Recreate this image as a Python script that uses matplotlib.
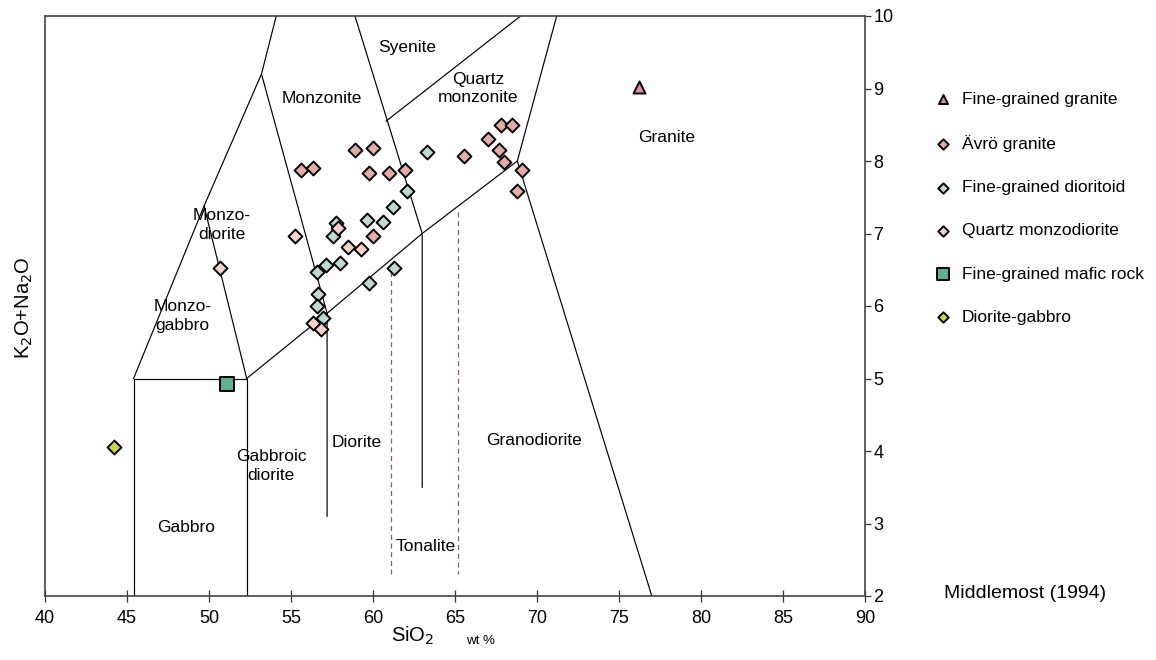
import matplotlib
matplotlib.use("Agg")
import matplotlib.pyplot as plt

plt.rcParams['font.family'] = ['Liberation Sans', 'DejaVu Sans']

# ---- sample data (SiO2 wt %, K2O+Na2O wt %) ----
fg_granite_si = [76.2]
fg_granite_alk = [9.02]

avro_si = [58.90, 59.98, 65.57, 55.59, 56.36, 59.77, 60.98, 61.95, 59.98,
           67.79, 68.49, 66.99, 67.68, 67.99, 69.10, 68.80]
avro_alk = [8.15, 8.18, 8.07, 7.87, 7.90, 7.83, 7.83, 7.87, 6.96,
            8.50, 8.50, 8.31, 8.15, 7.99, 7.88, 7.58]

dioritoid_si = [63.27, 62.05, 61.24, 57.74, 59.62, 60.59, 57.54, 57.13, 56.57,
                57.99, 61.28, 59.77, 56.67, 56.57, 56.97]
dioritoid_alk = [8.12, 7.58, 7.36, 7.14, 7.19, 7.16, 6.96, 6.57, 6.47,
                 6.59, 6.53, 6.32, 6.17, 6.00, 5.83]

qmd_si = [57.88, 55.24, 58.49, 59.25, 56.36, 56.81, 50.67]
qmd_alk = [7.07, 6.96, 6.81, 6.79, 5.77, 5.68, 6.52]

mafic_si = [51.1]
mafic_alk = [4.93]

dgabbro_si = [44.2]
dgabbro_alk = [4.05]

# ---- Middlemost (1994) plutonic field boundaries ----
boundaries = [
    [(45.4, 2.0), (45.4, 5.0), (52.3, 5.0), (52.3, 2.0)],
    [(45.4, 5.0), (49.7, 7.38), (53.2, 9.2), (54.1, 10.0)],
    [(49.7, 7.38), (52.3, 5.0)],
    [(52.3, 5.0), (57.2, 5.9), (63.0, 7.0), (68.8, 8.0)],
    [(53.2, 9.2), (57.2, 5.9), (57.2, 3.1)],
    [(58.9, 10.0), (63.0, 7.0), (63.0, 3.5)],
    [(60.8, 8.55), (69.0, 10.0)],
    [(71.2, 10.0), (68.8, 8.0), (77.0, 2.0)],
]
tonalite_dashes = [
    [(61.1, 6.6), (61.1, 2.3)],
    [(65.2, 7.3), (65.2, 2.3)],
]

field_labels = [
    ("Syenite", 62.1, 9.57),
    ("Quartz\nmonzonite", 66.4, 9.0),
    ("Monzonite", 56.9, 8.86),
    ("Granite", 77.9, 8.33),
    ("Monzo-\ndiorite", 50.8, 7.12),
    ("Monzo-\ngabbro", 48.4, 5.86),
    ("Diorite", 59.0, 4.12),
    ("Granodiorite", 69.8, 4.14),
    ("Gabbroic\ndiorite", 53.8, 3.79),
    ("Gabbro", 48.6, 2.95),
    ("Tonalite", 63.2, 2.68),
]

fig = plt.figure(figsize=(11.56, 6.6), dpi=100)
ax = fig.add_axes([45 / 1156, 1 - 596 / 660, 820 / 1156, 580 / 660])

for seg in boundaries:
    xs, ys = zip(*seg)
    ax.plot(xs, ys, color='black', lw=0.85, zorder=1)
for seg in tonalite_dashes:
    xs, ys = zip(*seg)
    ax.plot(xs, ys, color='#96585a', lw=0.9, ls=(0, (4, 3)), zorder=1)

for txt, x, y in field_labels:
    ax.text(x, y, txt, ha='center', va='center', fontsize=12.5,
            linespacing=1.3, zorder=2)

edge = dict(edgecolor='black', linewidths=1.4, zorder=4)
ax.scatter(fg_granite_si, fg_granite_alk, marker='^', s=75, c='#d98fa8',
           label='Fine-grained granite', **edge)
ax.scatter(avro_si, avro_alk, marker='D', s=50, c='#e4aca6',
           label='Ävrö granite', **edge)
ax.scatter(dioritoid_si, dioritoid_alk, marker='D', s=50, c='#bddad0',
           label='Fine-grained dioritoid', **edge)
ax.scatter(qmd_si, qmd_alk, marker='D', s=50, c='#f6d2c8',
           label='Quartz monzodiorite', **edge)
ax.scatter(mafic_si, mafic_alk, marker='s', s=115, c='#5fae8e',
           label='Fine-grained mafic rock', **edge)
ax.scatter(dgabbro_si, dgabbro_alk, marker='D', s=50, c='#c9d84a',
           label='Diorite-gabbro', **edge)

ax.set_xlim(40, 90)
ax.set_ylim(2, 10)
ax.set_xticks(range(40, 91, 5))
ax.set_yticks(range(2, 11))
ax.yaxis.tick_right()
ax.tick_params(axis='x', direction='inout', length=8, width=0.9,
               labelsize=13, color='#333333', pad=6)
ax.tick_params(axis='y', direction='out', length=4, width=0.9,
               labelsize=13, color='#333333', pad=2)
for sp in ax.spines.values():
    sp.set_color('#444444')
    sp.set_linewidth(1.2)

fig.text(413 / 1156, 1 - 636 / 660, 'SiO$_2$', fontsize=14.5, ha='center', va='center')
fig.text(480 / 1156, 1 - 641 / 660, 'wt %', fontsize=9.5, ha='center', va='center')
fig.text(24 / 1156, 1 - 308 / 660, 'K$_2$O+Na$_2$O', fontsize=14.5, rotation=90,
         ha='center', va='center')
fig.text(1025 / 1156, 1 - 594 / 660, 'Middlemost (1994)', fontsize=14,
         ha='center', va='center')

leg = ax.legend(loc='upper left', bbox_to_anchor=(926 / 1156, 1 - 83 / 660),
                bbox_transform=fig.transFigure, frameon=False, fontsize=12.5,
                labelspacing=1.62, handlelength=1.0, handletextpad=0.55,
                borderpad=0, markerscale=0.75)

fig.savefig('out.png', dpi=100)
